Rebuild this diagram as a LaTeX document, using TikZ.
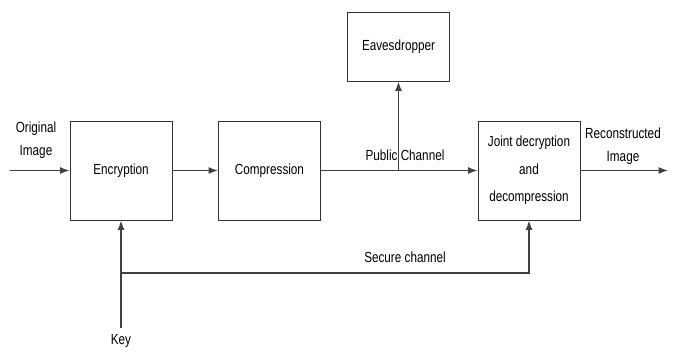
\documentclass[tikz,border=0pt]{standalone}
\usepackage{fontspec}
\setmainfont{Liberation Sans}[FakeStretch=0.8]
\usetikzlibrary{arrows.meta}

\begin{document}
\begin{tikzpicture}[x=0.03cm,y=-0.03cm,
    block/.style={draw=black!80,line width=0.8pt,minimum width=3.06cm,minimum height=2.97cm,align=center,font=\fontsize{12.5}{23.5}\selectfont},
    lbl/.style={align=center,font=\fontsize{12.5}{20}\selectfont,inner sep=0pt},
    link/.style={draw=black!75,line width=1.3pt,-{Latex[length=8pt,width=6pt]}}]
      \useasboundingbox (0,0) rectangle (677,352);
      \node[block] (enc) at (121,170.5) {Encryption};
      \node[block] (comp) at (269.5,170.5) {Compression};
      \node[block,minimum height=2.07cm] (eve) at (398.5,46.5) {Eavesdropper};
      \node[block] (dec) at (529,170.5) {Joint decryption\\and\\decompression};
      \coordinate (in) at (10,170.5);
      \coordinate (out) at (668,170.5);
      \coordinate (tap) at (398.5,170.5);
      \coordinate (key) at (121,328);
      \coordinate (corner) at (121,273);
      \node[lbl] (orig) at (36,140) {Original\\Image};
      \node[lbl] (rec) at (623,146) {Reconstructed\\Image};
      \node[lbl] (pub) at (405,155) {Public Channel};
      \node[lbl] (sec) at (405,257) {Secure channel};
      \node[lbl] (keytxt) at (121,341) {Key};
      \draw[link] (in) -- (enc);
      \draw[link] (enc) -- (comp);
      \draw[link] (comp) -- (dec);
      \draw[link] (dec) -- (out);
      \draw[link] (tap) -- (eve);
      \draw[link] (key) -- (enc);
      \draw[link] (corner) -| (dec);
    \end{tikzpicture}
\end{document}
